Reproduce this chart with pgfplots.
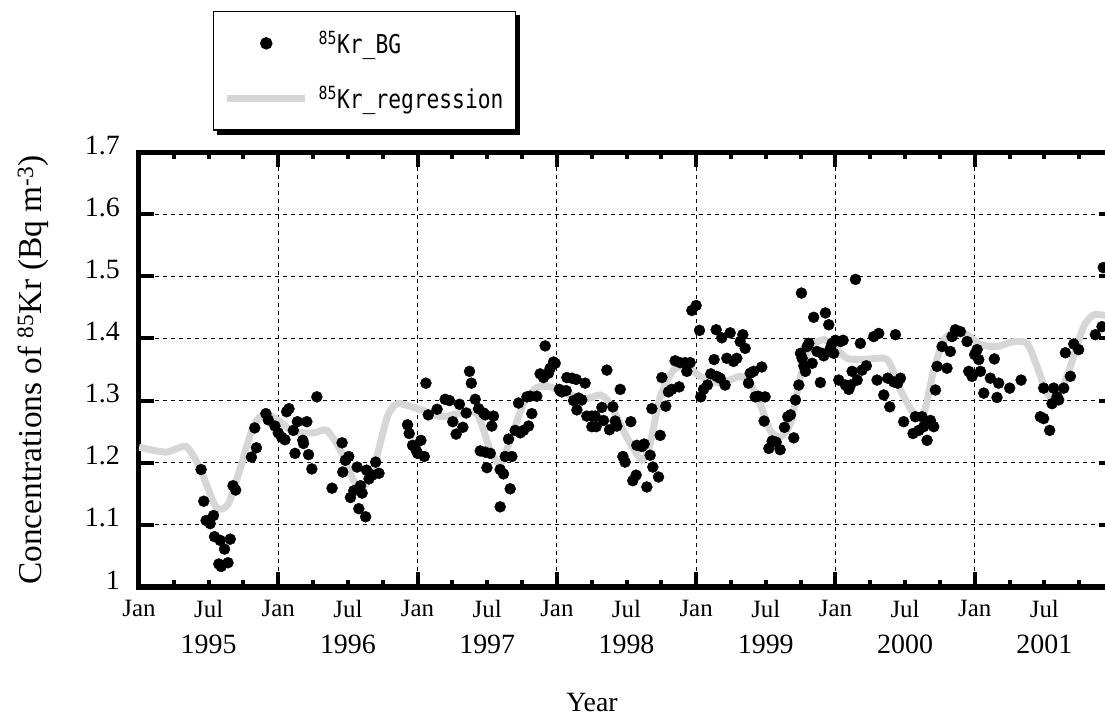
\documentclass[border=0pt]{standalone}
\usepackage{fontspec}
\setmainfont{Liberation Serif}
\newfontfamily\legfont[FakeStretch=0.82]{DejaVu Sans Mono}
\usepackage{pgfplots}
\pgfplotsset{compat=1.18}
\pgfdeclarelayer{background}
\pgfsetlayers{background,main}
\definecolor{reggray}{RGB}{214,214,214}
\newcommand{\yr}[1]{{\fontsize{28}{28}\selectfont #1}}

\begin{document}
\begin{tikzpicture}
\begin{axis}[
  scale only axis, width=975bp, height=435bp,
  at={(0,0)}, anchor=south west,
  xmin=1995, xmax=2002, ymin=1, ymax=1.7,
  xtick={1995,1996,1997,1998,1999,2000,2001},
  xticklabels={Jan,Jan,Jan,Jan,Jan,Jan,Jan},
  minor xtick={1995.25,1995.5,1995.75,1996.25,1996.5,1996.75,1997.25,1997.5,1997.75,
    1998.25,1998.5,1998.75,1999.25,1999.5,1999.75,2000.25,2000.5,2000.75,2001.25,2001.5,2001.75},
  extra x ticks={1995.5,1996.5,1997.5,1998.5,1999.5,2000.5,2001.5},
  extra x tick labels={{Jul\\[11bp]\yr{1995}},{Jul\\[11bp]\yr{1996}},{Jul\\[11bp]\yr{1997}},
    {Jul\\[11bp]\yr{1998}},{Jul\\[11bp]\yr{1999}},{Jul\\[11bp]\yr{2000}},{Jul\\[11bp]\yr{2001}}},
  extra x tick style={grid=none, major tick length=0pt},
  ytick={1,1.1,1.2,1.3,1.4,1.5,1.6,1.7},
  yticklabels={1,1.1,1.2,1.3,1.4,1.5,1.6,1.7},
  tick align=inside,
  major tick length=15bp,
  minor tick length=7bp,
  every tick/.append style={line width=4bp, black},
  axis line style={line width=5bp},
  grid=major,
  major grid style={black, line width=1.1bp, dash pattern=on 4bp off 4bp},
  xticklabel style={font=\fontsize{25}{25}\selectfont, align=center, anchor=north,
    inner sep=0pt, yshift=-13bp},
  yticklabel style={font=\fontsize{28}{28}\selectfont, anchor=east, inner sep=0pt,
    xshift=-19bp, yshift=7bp},
  legend style={name=leg, at={(axis description cs:0.0759,1.0483)}, anchor=south west,
    draw=black, line width=1.5bp, fill=white,
    inner xsep=10bp, inner ysep=18bp, row sep=27bp, column sep=8bp,
    font=\legfont\fontsize{26}{26}\selectfont},
  legend cell align=left,
]
\addplot[only marks, mark=*, mark size=5.5bp, black,
  legend image code/.code={\path[draw=none] (0bp,0bp) -- (78bp,0bp);
    \fill[black] (39bp,0bp) circle (5.5bp);}]
coordinates {
(1995.446,1.189) (1995.465,1.138) (1995.482,1.107) (1995.511,1.102) (1995.535,1.115)
(1995.542,1.081) (1995.583,1.075) (1995.614,1.061) (1995.655,1.077) (1995.573,1.037)
(1995.590,1.033) (1995.639,1.039) (1995.675,1.163) (1995.694,1.156) (1995.807,1.209)
(1995.843,1.224) (1995.831,1.256) (1995.911,1.279) (1995.928,1.269) (1995.976,1.259)
(1996.000,1.248) (1996.024,1.241) (1996.048,1.237) (1996.060,1.282) (1996.077,1.287)
(1996.108,1.252) (1996.120,1.215) (1996.137,1.266) (1996.176,1.236) (1996.181,1.231)
(1996.205,1.266) (1996.217,1.213) (1996.241,1.190) (1996.277,1.306) (1996.386,1.159)
(1996.458,1.232) (1996.463,1.185) (1996.482,1.204) (1996.506,1.210) (1996.518,1.144)
(1996.542,1.155) (1996.566,1.193) (1996.578,1.126) (1996.590,1.163) (1996.602,1.151)
(1996.627,1.113) (1996.634,1.188) (1996.651,1.174) (1996.675,1.180) (1996.699,1.201)
(1996.723,1.183) (1996.928,1.261) (1996.940,1.247) (1996.964,1.228) (1996.988,1.221)
(1997.000,1.215) (1997.024,1.236) (1997.048,1.210) (1997.060,1.328) (1997.077,1.277)
(1997.140,1.286) (1997.198,1.302) (1997.229,1.300) (1997.253,1.266) (1997.277,1.246)
(1997.301,1.294) (1997.325,1.257) (1997.349,1.280) (1997.373,1.347) (1997.386,1.328)
(1997.414,1.302) (1997.438,1.287) (1997.474,1.280) (1997.486,1.277) (1997.545,1.275)
(1997.533,1.259) (1997.450,1.219) (1997.486,1.217) (1997.522,1.215) (1997.498,1.192)
(1997.593,1.189) (1997.617,1.182) (1997.593,1.129) (1997.665,1.158) (1997.629,1.210)
(1997.677,1.210) (1997.653,1.238) (1997.701,1.252) (1997.737,1.248) (1997.761,1.252)
(1997.797,1.259) (1997.725,1.296) (1997.785,1.306) (1997.820,1.279) (1997.809,1.307)
(1997.856,1.307) (1997.916,1.388) (1997.880,1.343) (1997.904,1.337) (1997.940,1.344)
(1997.952,1.352) (1997.976,1.362) (1997.988,1.360) (1998.018,1.318) (1998.035,1.314)
(1998.067,1.316) (1998.072,1.337) (1998.108,1.336) (1998.139,1.334) (1998.120,1.300)
(1998.156,1.304) (1998.144,1.285) (1998.179,1.301) (1998.203,1.328) (1998.215,1.275)
(1998.251,1.275) (1998.275,1.275) (1998.251,1.258) (1998.282,1.258) (1998.323,1.289)
(1998.335,1.268) (1998.359,1.349) (1998.378,1.253) (1998.402,1.290) (1998.419,1.267)
(1998.431,1.259) (1998.455,1.318) (1998.474,1.210) (1998.490,1.201) (1998.531,1.266)
(1998.545,1.171) (1998.569,1.180) (1998.574,1.228) (1998.610,1.226) (1998.627,1.230)
(1998.646,1.161) (1998.670,1.212) (1998.689,1.193) (1998.682,1.287) (1998.730,1.177)
(1998.742,1.244) (1998.754,1.337) (1998.782,1.291) (1998.801,1.314) (1998.825,1.318)
(1998.878,1.322) (1998.849,1.364) (1998.885,1.361) (1998.921,1.361) (1998.957,1.361)
(1998.933,1.347) (1998.969,1.445) (1999.000,1.453) (1999.024,1.413) (1999.033,1.306)
(1999.053,1.318) (1999.081,1.325) (1999.105,1.343) (1999.129,1.366) (1999.144,1.414)
(1999.148,1.339) (1999.184,1.401) (1999.208,1.325) (1999.172,1.336) (1999.220,1.368)
(1999.244,1.409) (1999.268,1.363) (1999.292,1.368) (1999.316,1.395) (1999.335,1.406)
(1999.352,1.384) (1999.376,1.328) (1999.388,1.344) (1999.412,1.347) (1999.424,1.306)
(1999.471,1.354) (1999.447,1.307) (1999.495,1.306) (1999.488,1.267) (1999.522,1.223)
(1999.546,1.235) (1999.574,1.233) (1999.603,1.221) (1999.634,1.257) (1999.658,1.274)
(1999.677,1.277) (1999.701,1.240) (1999.713,1.301) (1999.737,1.325) (1999.749,1.376)
(1999.756,1.473) (1999.761,1.368) (1999.773,1.356) (1999.785,1.347) (1999.797,1.387)
(1999.809,1.392) (1999.833,1.360) (1999.844,1.434) (1999.868,1.379) (1999.892,1.329)
(1999.904,1.376) (1999.916,1.372) (1999.928,1.441) (1999.952,1.422) (1999.964,1.384)
(1999.976,1.392) (1999.988,1.376) (2000.000,1.397) (2000.024,1.333) (2000.036,1.395)
(2000.055,1.397) (2000.072,1.325) (2000.096,1.318) (2000.108,1.325) (2000.120,1.347)
(2000.144,1.495) (2000.156,1.333) (2000.179,1.392) (2000.191,1.349) (2000.222,1.356)
(2000.275,1.403) (2000.299,1.333) (2000.311,1.408) (2000.347,1.309) (2000.376,1.336)
(2000.390,1.290) (2000.419,1.330) (2000.431,1.406) (2000.447,1.328) (2000.467,1.336)
(2000.490,1.266) (2000.557,1.247) (2000.574,1.274) (2000.598,1.252) (2000.622,1.274)
(2000.634,1.258) (2000.658,1.236) (2000.682,1.268) (2000.706,1.258) (2000.718,1.317)
(2000.730,1.355) (2000.766,1.387) (2000.801,1.352) (2000.825,1.379) (2000.837,1.403)
(2000.861,1.414) (2000.897,1.411) (2000.945,1.395) (2000.957,1.347) (2000.981,1.339)
(2001.000,1.374) (2001.017,1.382) (2001.029,1.366) (2001.041,1.347) (2001.065,1.312)
(2001.112,1.336) (2001.141,1.367) (2001.172,1.328) (2001.160,1.305) (2001.251,1.320)
(2001.333,1.333) (2001.471,1.274) (2001.495,1.271) (2001.538,1.252) (2001.495,1.320)
(2001.555,1.295) (2001.567,1.320) (2001.591,1.306) (2001.603,1.301) (2001.639,1.320)
(2001.651,1.377) (2001.687,1.339) (2001.711,1.391) (2001.746,1.382) (2001.866,1.406)
(2001.914,1.419) (2001.923,1.514)
};
\addlegendentry{\textsuperscript{85}Kr\_BG}
\addplot[reggray, line width=7bp, smooth, tension=0.4,
  legend image code/.code={\draw[reggray, line width=7bp] (0bp,0bp) -- (78bp,0bp);}]
coordinates {
(1995.000,1.225) (1995.193,1.217) (1995.337,1.226) (1995.434,1.193) (1995.554,1.128)
(1995.639,1.133) (1995.723,1.188) (1995.819,1.258) (1995.904,1.279) (1996.012,1.266)
(1996.108,1.250) (1996.253,1.248) (1996.349,1.252) (1996.446,1.220) (1996.542,1.171)
(1996.614,1.161) (1996.687,1.193) (1996.783,1.274) (1996.855,1.295) (1997.000,1.287)
(1997.169,1.274) (1997.289,1.279) (1997.426,1.279) (1997.522,1.220) (1997.593,1.198)
(1997.665,1.236) (1997.761,1.295) (1997.856,1.321) (1997.952,1.322) (1998.096,1.309)
(1998.215,1.303) (1998.311,1.309) (1998.383,1.295) (1998.502,1.241) (1998.610,1.204)
(1998.670,1.231) (1998.742,1.306) (1998.837,1.349) (1998.933,1.355) (1999.029,1.339)
(1999.172,1.328) (1999.316,1.339) (1999.388,1.328) (1999.459,1.295) (1999.531,1.252)
(1999.603,1.241) (1999.677,1.263) (1999.749,1.339) (1999.821,1.387) (1999.916,1.398)
(1999.988,1.387) (2000.084,1.368) (2000.203,1.366) (2000.371,1.366) (2000.467,1.317)
(2000.562,1.279) (2000.634,1.279) (2000.706,1.349) (2000.778,1.398) (2000.873,1.411)
(2000.945,1.406) (2001.041,1.390) (2001.160,1.387) (2001.280,1.395) (2001.376,1.392)
(2001.447,1.355) (2001.519,1.312) (2001.591,1.301) (2001.687,1.355) (2001.782,1.419)
(2001.854,1.438) (2001.938,1.437) (2002.000,1.437)
};
\addlegendentry{\textsuperscript{85}Kr\_regression}
\end{axis}
\begin{pgfonlayer}{background}
\fill[black] ([shift={(4bp,-4bp)}]leg.south west) rectangle ([shift={(4bp,-4bp)}]leg.north east);
\end{pgfonlayer}
\node[rotate=90, anchor=base, font=\fontsize{33.5}{33.5}\selectfont] at (-97bp,217bp)
  {Concentrations of \textsuperscript{85}Kr (Bq m\textsuperscript{-3})};
\node[anchor=base, font=\fontsize{28}{28}\selectfont] at (453bp,-124bp) {Year};
\pgfresetboundingbox
\path[use as bounding box] (-139bp,-128bp) rectangle (966bp,587bp);
\end{tikzpicture}
\end{document}
